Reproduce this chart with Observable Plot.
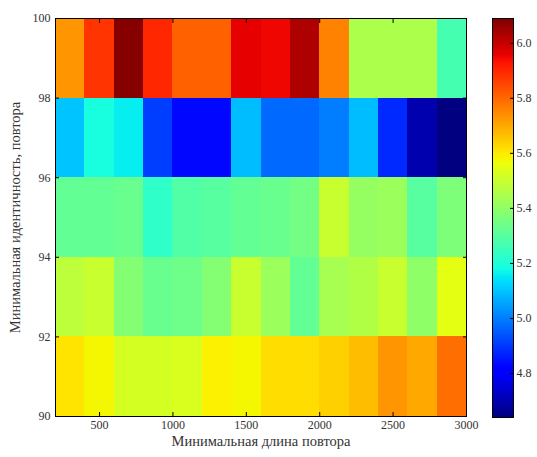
<!DOCTYPE html>
<html>
<head>
<meta charset="utf-8">
<script src="https://cdn.jsdelivr.net/npm/d3@7"></script>
<script src="https://cdn.jsdelivr.net/npm/@observablehq/plot@0.6"></script>
<style>
  html, body { margin: 0; padding: 0; background: #fff; }
  #wrap { position: relative; width: 537px; height: 457px; }
  #cbar { position: absolute; left: 492px; top: 0; }
  #main { position: absolute; left: 0; top: 0; }
</style>
</head>
<body>
<div id="wrap"><div id="main"></div><div id="cbar"></div></div>
<script>
// ---- data ----
const lengthStarts = [200, 400, 600, 800, 1000, 1200, 1400, 1600, 1800, 2000, 2200, 2400, 2600, 2800];
const lengthStep = 200;
const identityStarts = [90, 92, 94, 96, 98];
const identityStep = 2;
const row90 = [5.61, 5.58, 5.52, 5.52, 5.53, 5.59, 5.58, 5.62, 5.62, 5.64, 5.67, 5.73, 5.70, 5.79];
const row92 = [5.48, 5.50, 5.38, 5.33, 5.34, 5.38, 5.50, 5.42, 5.32, 5.44, 5.46, 5.50, 5.40, 5.55];
const row94 = [5.32, 5.32, 5.33, 5.23, 5.29, 5.30, 5.32, 5.33, 5.35, 5.50, 5.41, 5.42, 5.30, 5.37];
const row96 = [5.10, 5.19, 5.16, 4.91, 4.83, 4.83, 5.09, 4.97, 4.97, 5.00, 5.09, 4.88, 4.70, 4.64];
const row98 = [5.73, 5.88, 6.08, 5.90, 5.81, 5.81, 5.96, 5.95, 6.03, 5.76, 5.45, 5.45, 5.45, 5.27];
const rows = [row90, row92, row94, row96, row98];
const xTicks = [500, 1000, 1500, 2000, 2500, 3000];
const yTicks = [90, 92, 94, 96, 98, 100];
const cbTicks = [4.8, 5.0, 5.2, 5.4, 5.6, 5.8, 6.0];
const colorDomain = [4.64, 6.09];
const xLabel = "Минимальная длина повтора";
const yLabel = "Минимальная идентичность, повтора";

// ---- jet colormap (matplotlib) ----
const jetR = [[0, 0], [0.35, 0], [0.66, 1], [0.89, 1], [1, 0.5]];
const jetG = [[0, 0], [0.125, 0], [0.375, 1], [0.64, 1], [0.91, 0], [1, 0]];
const jetB = [[0, 0.5], [0.11, 1], [0.34, 1], [0.65, 0], [1, 0]];
function seg(p, t) {
  for (let i = 1; i < p.length; i++) {
    if (t <= p[i][0]) {
      const [x0, y0] = p[i - 1], [x1, y1] = p[i];
      return y0 + (y1 - y0) * (t - x0) / (x1 - x0);
    }
  }
  return p[p.length - 1][1];
}
function jet(t) {
  t = Math.max(0, Math.min(1, t));
  const c = v => Math.round(v * 255);
  return `rgb(${c(seg(jetR, t))},${c(seg(jetG, t))},${c(seg(jetB, t))})`;
}

const cells = [];
identityStarts.forEach((y, i) => {
  lengthStarts.forEach((x, j) => {
    cells.push({x1: x, x2: x + lengthStep, y1: y, y2: y + identityStep, v: rows[i][j]});
  });
});

const font = "'Liberation Serif', 'DejaVu Serif', serif";
const textColor = "#333";

const main = Plot.plot({
  width: 537,
  height: 457,
  marginLeft: 55,
  marginRight: 71,
  marginTop: 18,
  marginBottom: 41,
  style: {fontFamily: font, fontSize: "12px", color: textColor, background: "#fff"},
  x: {domain: [200, 3000], axis: null},
  y: {domain: [90, 100], axis: null},
  color: {type: "linear", domain: colorDomain, interpolate: jet, clamp: true},
  marks: [
    Plot.rect(cells, {x1: "x1", x2: "x2", y1: "y1", y2: "y2", fill: "v", shapeRendering: "crispEdges"}),
    Plot.axisX(xTicks, {anchor: "bottom", tickSize: 0, tickPadding: 4, tickFormat: d3.format("d"), label: null, fill: textColor}),
    Plot.axisY(yTicks, {anchor: "left", tickSize: 0, tickPadding: 5, tickFormat: d3.format("d"), label: null, fill: textColor}),
    Plot.axisX(xTicks, {anchor: "bottom", tickSize: -4, tickFormat: () => "", label: null, stroke: "#000"}),
    Plot.axisX(xTicks, {anchor: "top", tickSize: -4, tickFormat: () => "", label: null, stroke: "#000"}),
    Plot.axisY(yTicks, {anchor: "left", tickSize: -4, tickFormat: () => "", label: null, stroke: "#000"}),
    Plot.axisY(yTicks, {anchor: "right", tickSize: -4, tickFormat: () => "", label: null, stroke: "#000"}),
    Plot.frame({stroke: "#000", strokeWidth: 1}),
    Plot.text([xLabel], {frameAnchor: "bottom", textAnchor: "middle", dy: 29, fontSize: 14.5, fill: textColor}),
    Plot.text([yLabel], {frameAnchor: "left", textAnchor: "middle", lineAnchor: "middle", rotate: -90, dx: -40, fontSize: 14.5, fill: textColor})
  ]
});
document.getElementById("main").appendChild(main);

const cbar = Plot.plot({
  width: 45,
  height: 457,
  marginLeft: 0,
  marginRight: 24,
  marginTop: 18,
  marginBottom: 40,
  style: {fontFamily: font, fontSize: "12px", color: textColor, background: "transparent", overflow: "visible"},
  x: {domain: [0, 1], axis: null},
  y: {domain: colorDomain, axis: null},
  color: {type: "linear", domain: colorDomain, interpolate: jet, clamp: true},
  marks: [
    Plot.raster({x1: 0, x2: 1, y1: colorDomain[0], y2: colorDomain[1], fill: (x, y) => y}),
    Plot.axisY(cbTicks, {anchor: "right", tickSize: 0, tickPadding: 3, tickFormat: d3.format(".1f"), label: null, fill: textColor}),
    Plot.axisY(cbTicks, {anchor: "right", tickSize: -4, tickFormat: () => "", label: null, stroke: "#000"}),
    Plot.frame({stroke: "#000", strokeWidth: 1})
  ]
});
document.getElementById("cbar").appendChild(cbar);
</script>
</body>
</html>
